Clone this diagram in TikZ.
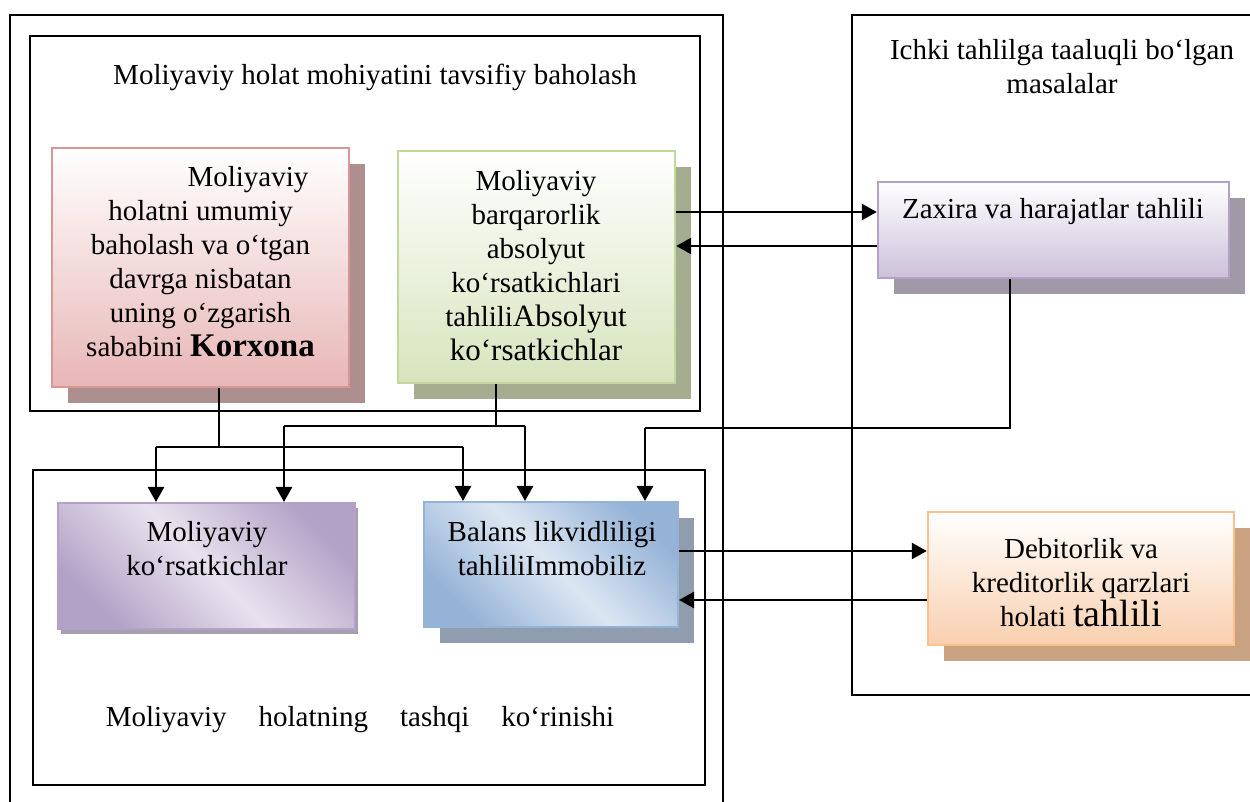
\documentclass[tikz,border=0pt]{standalone}
\usepackage{fontspec}
\setmainfont{Liberation Serif}
\usetikzlibrary{arrows.meta,shadows}

% box colours
\definecolor{redBot}{HTML}{E8B6B6}
\definecolor{redLine}{HTML}{D99694}
\definecolor{redShadow}{HTML}{AE8F90}
\definecolor{grnBot}{HTML}{D7E4BD}
\definecolor{grnLine}{HTML}{C3D69B}
\definecolor{grnShadow}{HTML}{A4AD90}
\definecolor{lilBot}{HTML}{CCC0DA}
\definecolor{lilLine}{HTML}{B3A2C7}
\definecolor{lilShadow}{HTML}{A09AA8}
\definecolor{orgBot}{HTML}{F9CFAE}
\definecolor{orgLine}{HTML}{FAC090}
\definecolor{orgShadow}{HTML}{C9A282}
\definecolor{purDark}{HTML}{B3A2C7}
\definecolor{purLight}{HTML}{E8E2EE}
\definecolor{purShadow}{HTML}{A59FB0}
\definecolor{bluDark}{HTML}{95B3D7}
\definecolor{bluLight}{HTML}{DCE6F2}
\definecolor{bluShadow}{HTML}{8F9DAE}

\tikzset{
  frame/.style={draw=black, line width=0.8pt},
  txt/.style={font=\fontsize{14.5}{17}\selectfont, align=center, inner sep=0pt},
  cbox/.style={rectangle, inner sep=0pt, line width=1.2pt},
  diagshade/.style 2 args={left color=#1, right color=#1, middle color=#2, shading angle=-45},
  bigshadow/.style={drop shadow={shadow xshift=8pt, shadow yshift=-8pt, opacity=1, fill=#1}},
  smallshadow/.style={drop shadow={shadow xshift=1.5pt, shadow yshift=-2.5pt, opacity=1, fill=#1}},
  arr/.style={line width=1.25pt, -{Triangle[length=7.5pt,width=8pt]}},
  link/.style={line width=0.75pt},
}

\begin{document}
\begin{tikzpicture}[x=0.5pt, y=-0.5pt]
\useasboundingbox (0,0) rectangle (1250,802);

% container frames
\draw[frame] (10,15) rectangle (723,812);
\draw[frame] (30,36) rectangle (700,411);
\draw[frame] (33,470) rectangle (705,785);
\draw[frame] (852,15) rectangle (1262,695);

% frame captions
\node[txt] (capTop) at (375,77) {Moliyaviy holat mohiyatini tavsifiy baholash};
\node[txt] (capRight) at (1062,67) {Ichki tahlilga taaluqli bo‘lgan\\masalalar};
\node[txt] (capBottom) at (360,720) {Moliyaviy\hspace{16pt}holatning\hspace{16pt}tashqi\hspace{16pt}ko‘rinishi};

% coloured boxes
\node[cbox, draw=redLine, top color=white, bottom color=redBot, bigshadow=redShadow,
      minimum width=148.5pt, minimum height=119.5pt] (red) at (200.5,267.5) {};
\node[cbox, draw=grnLine, top color=white, bottom color=grnBot, bigshadow=grnShadow,
      minimum width=138.5pt, minimum height=116pt] (green) at (536.5,267) {};
\node[cbox, draw=lilLine, top color=white, bottom color=lilBot, bigshadow=lilShadow,
      minimum width=175.5pt, minimum height=48pt] (zx) at (1053.5,230) {};
\node[cbox, draw=orgLine, top color=white, bottom color=orgBot, bigshadow=orgShadow,
      minimum width=153pt, minimum height=66.5pt] (deb) at (1081,578.5) {};
\node[cbox, line width=1pt, draw=purDark, diagshade={purDark}{purLight}, smallshadow=purShadow,
      minimum width=148.5pt, minimum height=63pt] (mk) at (206.5,566) {};
\node[cbox, line width=1pt, draw=bluDark, diagshade={bluDark}{bluLight}, bigshadow=bluShadow,
      minimum width=127pt, minimum height=62.5pt] (bal) at (551,564.5) {};

% box texts
\node[txt] (redText) at (200.5,262)
  {\hspace*{47.5pt}Moliyaviy\\holatni umumiy\\baholash va o‘tgan\\davrga nisbatan\\uning o‘zgarish\\sababini {\fontsize{16.5}{17}\selectfont\bfseries Korxona}};
\node[txt] (greenText) at (536,266)
  {Moliyaviy\\barqarorlik\\absolyut\\ko‘rsatkichlari\\tahlili{\fontsize{15.5}{17}\selectfont Absolyut}\\{\fontsize{15.5}{17}\selectfont ko‘rsatkichlar}};
\node[txt] (zxText) at (1053,212) {Zaxira va harajatlar tahlili};
\node[txt] (debText) at (1081,583)
  {Debitorlik va\\kreditorlik qarzlari\\holati {\fontsize{19}{17}\selectfont tahlili}};
\node[txt] (mkText) at (207,549) {Moliyaviy\\ko‘rsatkichlar};
\node[txt] (balText) at (552,548.5) {Balans likvidliligi\\tahliliImmobiliz};

% branch points of the connectors
\coordinate (r1) at (219,447);
\coordinate (r2) at (156,447);
\coordinate (r3) at (463,447);
\coordinate (g1) at (496,426);
\coordinate (g2) at (284,426);
\coordinate (g3) at (525,426);
\coordinate (z1) at (1010,428);
\coordinate (z2) at (645,428);
\coordinate (yA) at (0,212);
\coordinate (yB) at (0,246);
\coordinate (yC) at (0,551);
\coordinate (yD) at (0,600);

% red box feeds both lower boxes
\draw[link] (red.south -| r1) -- (r1);
\draw[link] (r2) -- (r3);
\draw[arr] (r2) -- (r2 |- mk.north);
\draw[arr] (r3) -- (r3 |- bal.north);

% green box feeds both lower boxes
\draw[link] (green.south -| g1) -- (g1);
\draw[link] (g2) -- (g3);
\draw[arr] (g2) -- (g2 |- mk.north);
\draw[arr] (g3) -- (g3 |- bal.north);

% stock analysis feeds the liquidity box
\draw[link] (zx.south -| z1) -- (z1) -- (z2);
\draw[arr] (z2) -- (z2 |- bal.north);

% two-way links
\draw[arr] (green.east |- yA) -- (zx.west |- yA);
\draw[arr] (zx.west |- yB) -- (green.east |- yB);
\draw[arr] (bal.east |- yC) -- (deb.west |- yC);
\draw[arr] (deb.west |- yD) -- (bal.east |- yD);
\end{tikzpicture}
\end{document}
